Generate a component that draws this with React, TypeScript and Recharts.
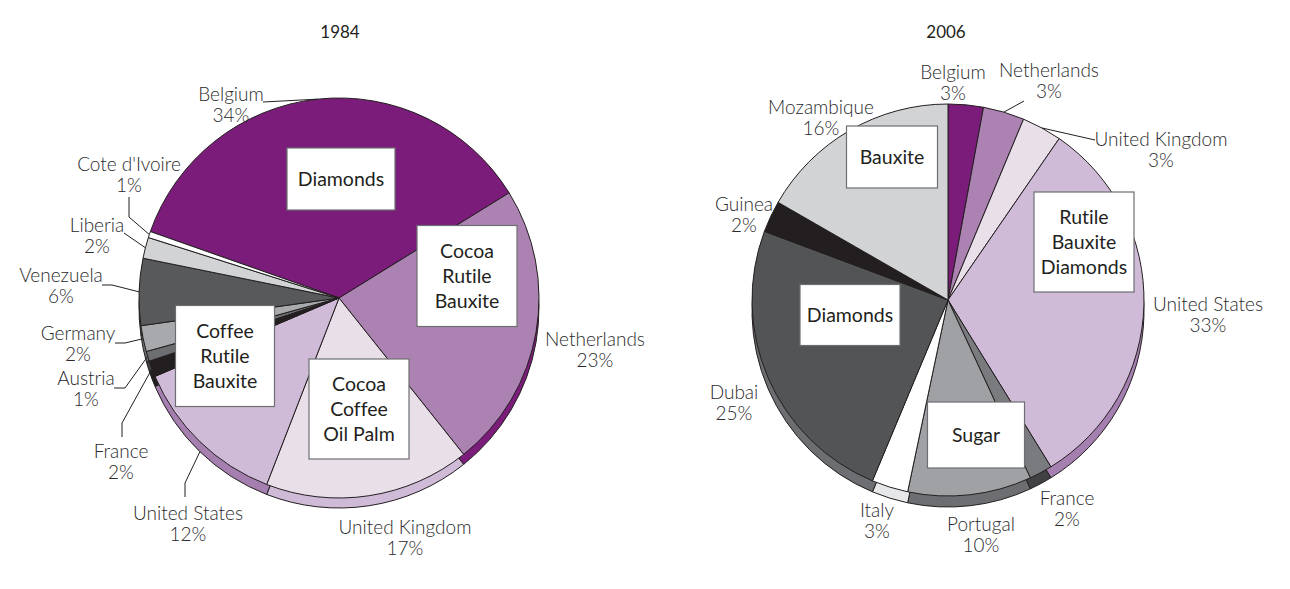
import React from "react";
import { PieChart, Pie, Cell } from "recharts";

// 1984 — shares, labels as printed
const countries1984 = ["Belgium", "Netherlands", "United Kingdom", "United States", "France", "Austria", "Germany", "Venezuela", "Liberia", "Cote d'Ivoire"];
const shares1984 = [35.8, 23.1, 16.6, 12.7, 1.3, 0.8, 2.1, 5.4, 1.7, 0.5];
const pct1984 = ["34%", "23%", "17%", "12%", "2%", "1%", "2%", "6%", "2%", "1%"];
const products1984 = [["Diamonds"], ["Cocoa", "Rutile", "Bauxite"], ["Cocoa", "Coffee", "Oil Palm"], ["Coffee", "Rutile", "Bauxite"], [], [], [], [], [], []];

// 2006
const countries2006 = ["Belgium", "Netherlands", "United Kingdom", "United States", "France", "Portugal", "Italy", "Dubai", "Guinea", "Mozambique"];
const shares2006 = [2.9, 3.4, 3.3, 31.6, 1.9, 10.2, 3.0, 24.4, 2.6, 16.7];
const pct2006 = ["3%", "3%", "3%", "33%", "2%", "10%", "3%", "25%", "2%", "16%"];
const products2006 = [[], [], [], ["Rutile", "Bauxite", "Diamonds"], [], ["Sugar"], [], ["Diamonds"], [], ["Bauxite"]];

const colors1984 = ["#7b1c7a", "#ab82b2", "#e8dfe9", "#cfbad7", "#231f20", "#6d6e71", "#a7a9ac", "#58595b", "#d1d3d4", "#ffffff"];
const rim1984 = ["#5c135b", "#7b1c7a", "#cfbad7", "#a57fb0", "#231f20", "#414042", "#6d6e71", "#414042", "#a7a9ac", "#e6e7e8"];
const colors2006 = ["#7b1c7a", "#ab82b2", "#e8dfe9", "#cfbad7", "#7a7b7e", "#a0a1a4", "#ffffff", "#535456", "#231f20", "#d1d3d4"];
const rim2006 = ["#5c135b", "#7b1c7a", "#cfbad7", "#a57fb0", "#414042", "#6d6e71", "#e6e7e8", "#6d6e71", "#231f20", "#a7a9ac"];

type Pt = [number, number];
type LabelPos = { x: number; y: number; lead?: Pt[]; endDy?: number };
type BoxPos = { x: number; y: number; w: number; h: number };

// label placement, offsets from the pie centre
const labelPos1984: LabelPos[] = [
  { x: -108, y: -203, lead: [[-76, -196]] },
  { x: 256, y: 42 },
  { x: 66, y: 230 },
  { x: -151, y: 216, lead: [[-154, 199], [-154, 185]], endDy: 10 },
  { x: -218, y: 154, lead: [[-217, 139], [-217, 125]] },
  { x: -253, y: 81, lead: [[-225, 90], [-214, 90]] },
  { x: -261, y: 36, lead: [[-224, 45], [-214, 45]] },
  { x: -278, y: -22, lead: [[-237, -13], [-227, -13]] },
  { x: -242, y: -72, lead: [[-215, -65]] },
  { x: -210, y: -133, lead: [[-210, -101], [-210, -81]] },
];
const labelPos2006: LabelPos[] = [
  { x: 5, y: -227 },
  { x: 101, y: -229, lead: [[76, -199]] },
  { x: 213, y: -160, lead: [[147, -160]] },
  { x: 260, y: 5 },
  { x: 119, y: 199 },
  { x: 33, y: 225 },
  { x: -71, y: 211 },
  { x: -214, y: 93 },
  { x: -204, y: -95 },
  { x: -127, y: -192 },
];

const boxes1984: Record<number, BoxPos> = {
  0: { x: 2, y: -119, w: 108, h: 62 },
  1: { x: 128, y: -22, w: 100, h: 101 },
  2: { x: 20, y: 111, w: 100, h: 100 },
  3: { x: -114, y: 58, w: 99, h: 101 },
};
const boxes2006: Record<number, BoxPos> = {
  3: { x: 136, y: -58, w: 100, h: 100 },
  5: { x: 28, y: 135, w: 97, h: 66 },
  7: { x: -98, y: 15, w: 100, h: 61 },
  9: { x: -56, y: -143, w: 91, h: 62 },
};

const FONT = "Lato, 'Open Sans', sans-serif";
const RADIAN = Math.PI / 180;
const noLig: React.CSSProperties = { fontVariantLigatures: "none" };

const makeLabel =
  (names: string[], pcts: string[], products: string[][], pos: LabelPos[], boxes: Record<number, BoxPos>) =>
  (props: any) => {
    const { cx, cy, midAngle, outerRadius, index } = props;
    const p = pos[index];
    const b = boxes[index];
    const lines = products[index];
    const tx = cx + p.x;
    const ty = cy + p.y + 6;
    let leader = null;
    if (p.lead) {
      const ex = cx + outerRadius * Math.cos(-midAngle * RADIAN);
      const ey = cy + outerRadius * Math.sin(-midAngle * RADIAN) + (p.endDy || 0);
      const pts = p.lead.map(([dx, dy]) => `${cx + dx},${cy + dy}`).concat(`${ex},${ey}`);
      leader = <polyline points={pts.join(" ")} fill="none" stroke="#231f20" strokeWidth={1} />;
    }
    return (
      <g key={`lbl-${index}`}>
        {leader}
        <text x={tx} y={ty} textAnchor="middle" fontFamily={FONT} fontWeight={300} fontSize={19} fill="#2a2a2c" style={noLig}>
          <tspan x={tx}>{names[index]}</tspan>
          <tspan x={tx} dy={21}>{pcts[index]}</tspan>
        </text>
        {b && lines.length > 0 && (
          <g>
            <rect x={cx + b.x - b.w / 2} y={cy + b.y - b.h / 2} width={b.w} height={b.h} fill="#ffffff" stroke="#6d6e71" strokeWidth={1.2} />
            <text textAnchor="middle" fontFamily={FONT} fontWeight={400} fontSize={19.5} fill="#231f20" style={noLig}>
              {lines.map((l, i) => (
                <tspan key={l + i} x={cx + b.x} y={cy + b.y + 7 + (i - (lines.length - 1) / 2) * 25}>
                  {l}
                </tspan>
              ))}
            </text>
          </g>
        )}
      </g>
    );
  };

const data1984 = countries1984.map((name, i) => ({ name, value: shares1984[i] }));
const data2006 = countries2006.map((name, i) => ({ name, value: shares2006[i] }));

const titleStyle: React.CSSProperties = {
  position: "absolute",
  width: 100,
  textAlign: "center",
  top: 22,
  fontFamily: FONT,
  fontSize: 17,
  color: "#231f20",
  lineHeight: "20px",
};

export default function App() {
  return (
    <div style={{ position: "relative", width: 1290, height: 589, marginLeft: -8, marginTop: -8, overflow: "hidden", background: "#fff" }}>
      <div style={{ position: "absolute", left: 0, top: 0 }}>
        <PieChart width={1290} height={589} margin={{ top: 0, right: 0, bottom: 0, left: 0 }}>
          <Pie data={data1984} dataKey="value" cx={339} cy={308} outerRadius={200} startAngle={160.6} endAngle={-199.4} stroke="#231f20" strokeWidth={1} isAnimationActive={false}>
            {data1984.map((d, i) => (
              <Cell key={d.name} fill={rim1984[i]} />
            ))}
          </Pie>
          <Pie
            data={data1984}
            dataKey="value"
            cx={339}
            cy={298}
            outerRadius={200}
            startAngle={160.6}
            endAngle={-199.4}
            stroke="#231f20"
            strokeWidth={1}
            isAnimationActive={false}
            labelLine={false}
            label={makeLabel(countries1984, pct1984, products1984, labelPos1984, boxes1984)}
          >
            {data1984.map((d, i) => (
              <Cell key={d.name} fill={colors1984[i]} />
            ))}
          </Pie>
          <Pie data={data2006} dataKey="value" cx={948} cy={311} outerRadius={196} startAngle={90} endAngle={-270} stroke="#231f20" strokeWidth={1} isAnimationActive={false}>
            {data2006.map((d, i) => (
              <Cell key={d.name} fill={rim2006[i]} />
            ))}
          </Pie>
          <Pie
            data={data2006}
            dataKey="value"
            cx={948}
            cy={300}
            outerRadius={196}
            startAngle={90}
            endAngle={-270}
            stroke="#231f20"
            strokeWidth={1}
            isAnimationActive={false}
            labelLine={false}
            label={makeLabel(countries2006, pct2006, products2006, labelPos2006, boxes2006)}
          >
            {data2006.map((d, i) => (
              <Cell key={d.name} fill={colors2006[i]} />
            ))}
          </Pie>
        </PieChart>
      </div>
      <div style={{ ...titleStyle, left: 290 }}>1984</div>
      <div style={{ ...titleStyle, left: 896 }}>2006</div>
      {/* frame: only its top and left sides fall inside the picture */}
      <div
        style={{
          position: "absolute",
          left: 5,
          top: 5,
          width: 1300,
          height: 600,
          borderTop: "2px solid #4a4a4c",
          borderLeft: "2px solid #4a4a4c",
          pointerEvents: "none",
        }}
      />
    </div>
  );
}
